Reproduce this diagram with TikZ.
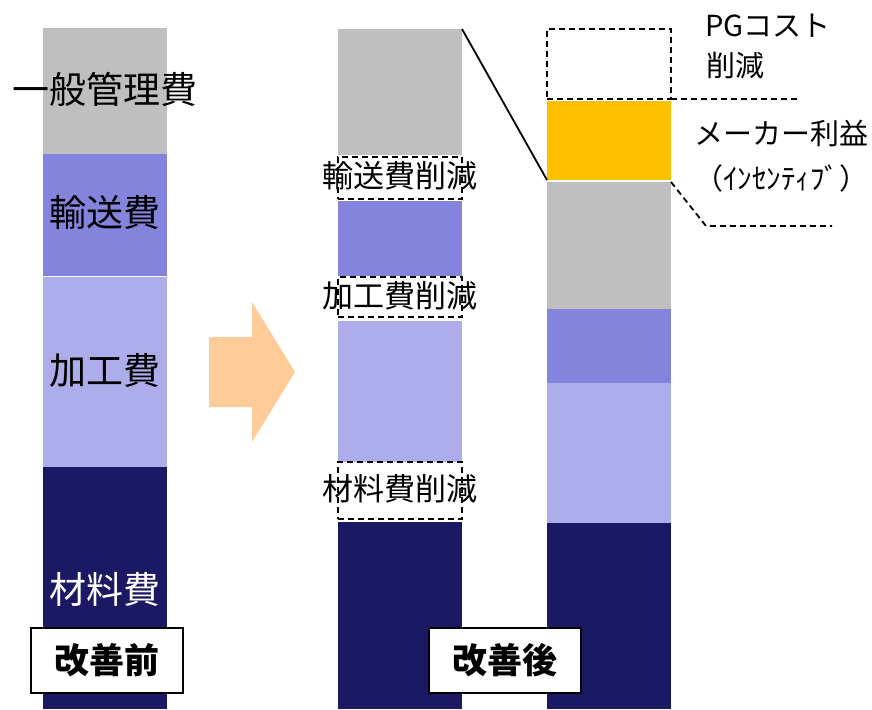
\documentclass[tikz,border=0pt]{standalone}
\usepackage{fontspec}
\setmainfont{Noto Sans CJK JP}
\begin{document}
\begin{tikzpicture}[x=1pt,y=-1pt]
\definecolor{cgray}{HTML}{BFBFBF}
\definecolor{cblue}{HTML}{8484DC}
\definecolor{clight}{HTML}{ADADEB}
\definecolor{cnavy}{HTML}{1B1964}
\definecolor{corange}{HTML}{FFC000}
\definecolor{cpeach}{HTML}{FFCC99}
\tikzset{
  seg/.style={inner sep=0, outer sep=0, anchor=north west, draw=none, minimum width=124pt},
  dbox/.style={seg, draw=black, dashed, dash pattern=on 6pt off 4pt, line width=1.8pt},
  bigtxt/.style={inner sep=0, font=\fontsize{37}{40}\selectfont},
  midtxt/.style={inner sep=0, font=\fontsize{31}{34}\selectfont},
  rtxt/.style={inner sep=0, anchor=west, font=\fontsize{29}{32}\selectfont},
  capbox/.style={draw=black, line width=2pt, fill=white, minimum width=152pt, minimum height=65pt, inner sep=0, font=\fontsize{35}{38}\selectfont\bfseries},
  dline/.style={dashed, dash pattern=on 6pt off 4pt, line width=1.8pt}
}
\useasboundingbox (0,0) rectangle (872,709);
% left bar
\node[seg, fill=cgray, minimum height=126pt] (L1) at (43,28) {};
\node[seg, fill=cblue, minimum height=122pt] (L2) at (43,154) {};
\node[seg, fill=clight, minimum height=190pt] (L3) at (43,277) {};
\node[seg, fill=cnavy, minimum height=242pt] (L4) at (43,467) {};
\node[bigtxt] (t1) at (105,89) {一般管理費};
\node[bigtxt] (t2) at (105,212) {輸送費};
\node[bigtxt] (t3) at (105,370) {加工費};
\node[bigtxt, text=white] (t4) at (105,589) {材料費};
\node[capbox] (c1) at (107,660) {改善前};
% arrow
\fill[cpeach] (209,337) -- (252,337) -- (252,302) -- (295,372) -- (252,442) -- (252,407) -- (209,407) -- cycle;
% middle bar
\node[seg, fill=cgray, minimum height=126pt] (M1) at (338,29) {};
\node[dbox, minimum height=42pt] (M2) at (338,157) {};
\node[seg, fill=cblue, minimum height=75pt] (M3) at (338,201) {};
\node[dbox, minimum height=40pt] (M4) at (338,277) {};
\node[seg, fill=clight, minimum height=141pt] (M5) at (338,321) {};
\node[dbox, minimum height=57pt] (M6) at (338,462) {};
\node[seg, fill=cnavy, minimum height=187pt] (M7) at (338,522) {};
\node[midtxt] (m1) at (400,176) {輸送費削減};
\node[midtxt] (m2) at (400,296) {加工費削減};
\node[midtxt] (m3) at (400,489) {材料費削減};
% right bar
\node[dbox, minimum height=70pt] (R1) at (547,29) {};
\node[seg, fill=corange, minimum height=79pt] (R2) at (547,101) {};
\node[seg, fill=cgray, minimum height=127pt] (R3) at (547,182) {};
\node[seg, fill=cblue, minimum height=74pt] (R4) at (547,309) {};
\node[seg, fill=clight, minimum height=140pt] (R5) at (547,383) {};
\node[seg, fill=cnavy, minimum height=186pt] (R6) at (547,523) {};
\node[capbox] (c2) at (505,660) {改善後};
\node[rtxt] (r1) at (705,26) {PGコスト};
\node[rtxt] (r2) at (706,65) {削減};
\node[rtxt] (r3) at (694,133) {メーカー利益};
\node[rtxt] (r4) at (694,178) {（ｲﾝｾﾝﾃｨﾌﾞ）};
% connectors
\coordinate (e1) at (798,99);
\coordinate (e2) at (706,226);
\coordinate (e3) at (832,226);
\draw[line width=1.8pt] (M1.north east) -- (R2.south west);
\draw[dline] (R1.south east) -- (e1);
\draw[dline] (R3.north east) -- (e2) -- (e3);
\end{tikzpicture}
\end{document}
